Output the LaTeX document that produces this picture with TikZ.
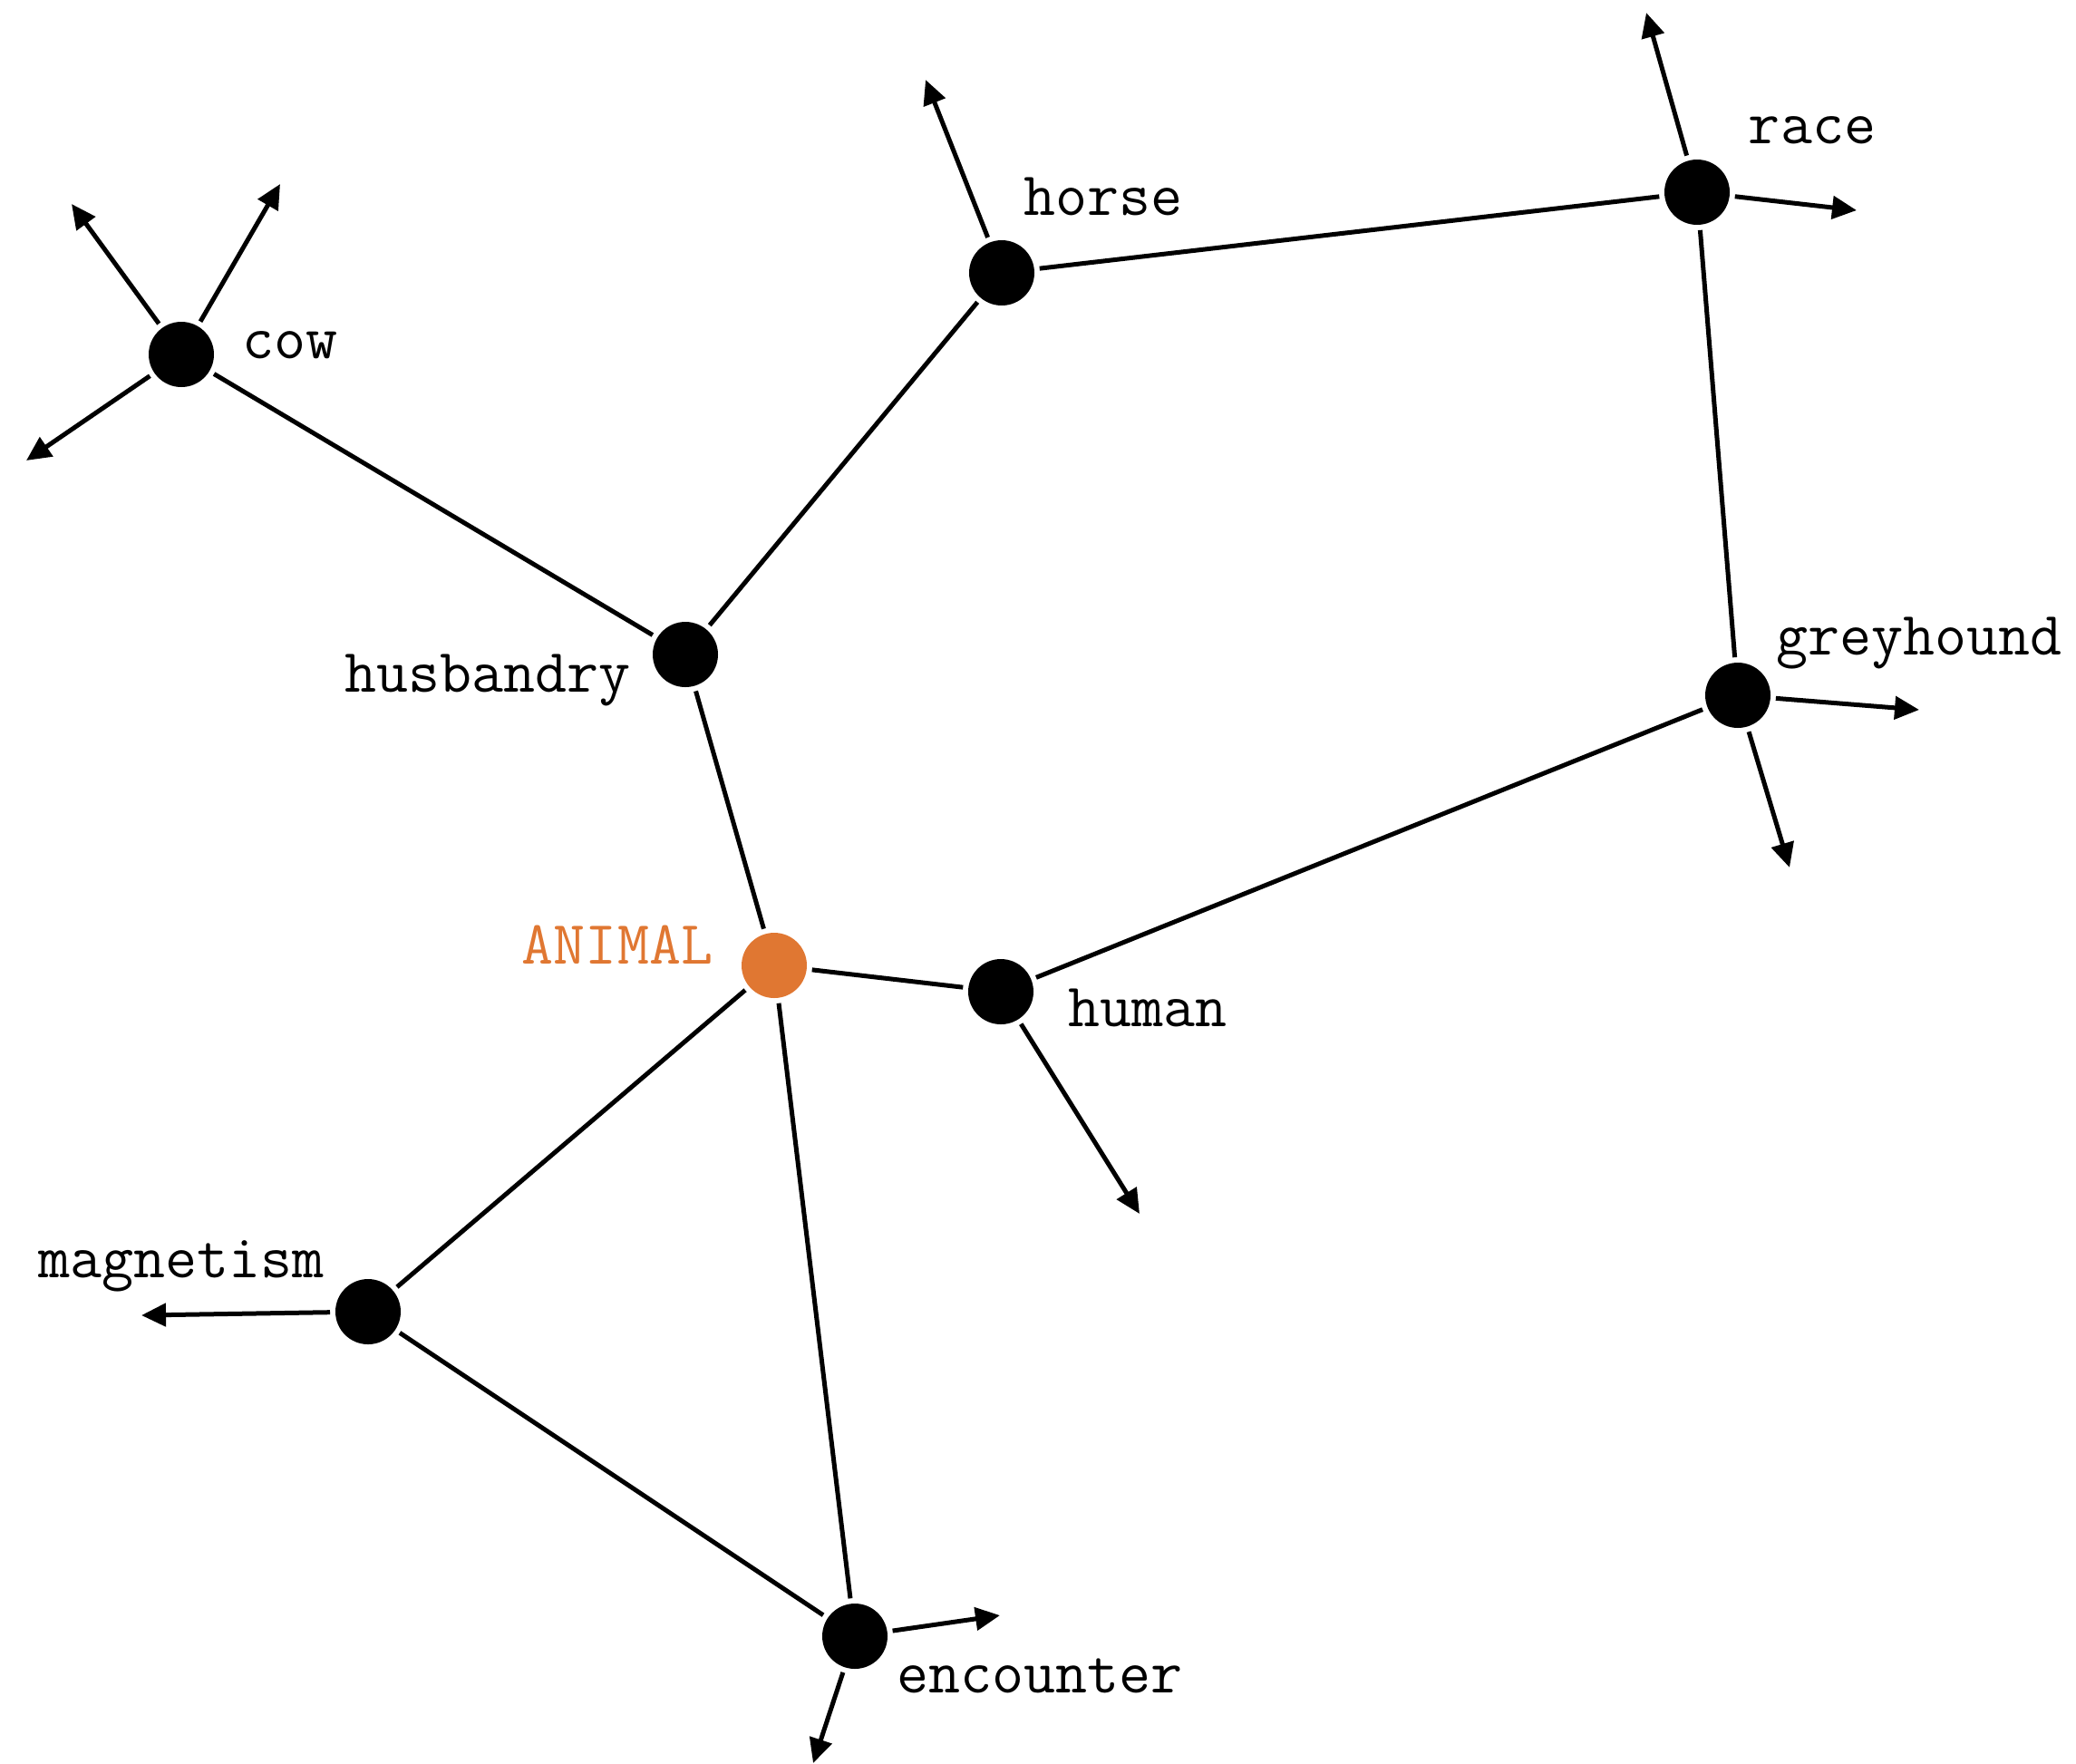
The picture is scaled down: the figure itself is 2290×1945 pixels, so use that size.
\documentclass[tikz,border=0pt]{standalone}
\usetikzlibrary{arrows.meta}
\definecolor{animalorange}{RGB}{224,119,50}
\begin{document}
\begin{tikzpicture}[x=0.5pt,y=-0.5pt,
  dot/.style={circle,fill=black,draw=none,minimum size=36pt,inner sep=0pt,outer sep=3pt},
  hub/.style={dot,fill=animalorange},
  lbl/.style={font=\fontsize{34}{34}\selectfont\ttfamily,inner sep=0pt,anchor=base},
  link/.style={line width=2.5pt},
  outarrow/.style={line width=2.5pt,-{Triangle[length=13.5pt,width=12.5pt]}}]
\path[use as bounding box] (0,0) rectangle (2290,1945);
% nodes
\node[dot] (cow) at (200,391) {};
\node[dot] (husbandry) at (756,722) {};
\node[dot] (horse) at (1105,301) {};
\node[dot] (race) at (1872,212) {};
\node[dot] (greyhound) at (1917,767) {};
\node[dot] (human) at (1104,1094) {};
\node[hub] (animal) at (854,1065) {};
\node[dot] (magnetism) at (406,1447) {};
\node[dot] (encounter) at (943,1805) {};
% labels
\node[lbl] (tcow) at (320,395) {cow};
\node[lbl] (thorse) at (1217,237) {horse};
\node[lbl] (trace) at (1999,158) {race};
\node[lbl] (tgrey) at (2117,722) {greyhound};
\node[lbl] (thusb) at (538,763) {husbandry};
\node[lbl,text=animalorange] (tanimal) at (681,1063) {ANIMAL};
\node[lbl] (thuman) at (1266,1132) {human};
\node[lbl] (tmag) at (200,1409) {magnetism};
\node[lbl] (tenc) at (1147,1867) {encounter};
% arrow ends
\coordinate (cowA) at (79,225);
\coordinate (cowB) at (309,203);
\coordinate (cowC) at (29,508);
\coordinate (horseA) at (1021,88);
\coordinate (raceA) at (1816,14);
\coordinate (raceB) at (2048,232);
\coordinate (greyA) at (2117,783);
\coordinate (greyB) at (1974,957);
\coordinate (humanA) at (1257,1339);
\coordinate (magA) at (156,1451);
\coordinate (encA) at (1103,1782);
\coordinate (encB) at (897,1945);
% links
\draw[link] (cow) -- (husbandry);
\draw[link] (husbandry) -- (horse);
\draw[link] (horse) -- (race);
\draw[link] (race) -- (greyhound);
\draw[link] (greyhound) -- (human);
\draw[link] (human) -- (animal);
\draw[link] (animal) -- (husbandry);
\draw[link] (animal) -- (magnetism);
\draw[link] (animal) -- (encounter);
\draw[link] (magnetism) -- (encounter);
% outgoing arrows
\draw[outarrow] (cow) -- (cowA);
\draw[outarrow] (cow) -- (cowB);
\draw[outarrow] (cow) -- (cowC);
\draw[outarrow] (horse) -- (horseA);
\draw[outarrow] (race) -- (raceA);
\draw[outarrow] (race) -- (raceB);
\draw[outarrow] (greyhound) -- (greyA);
\draw[outarrow] (greyhound) -- (greyB);
\draw[outarrow] (human) -- (humanA);
\draw[outarrow] (magnetism) -- (magA);
\draw[outarrow] (encounter) -- (encA);
\draw[outarrow] (encounter) -- (encB);
\end{tikzpicture}
\end{document}
